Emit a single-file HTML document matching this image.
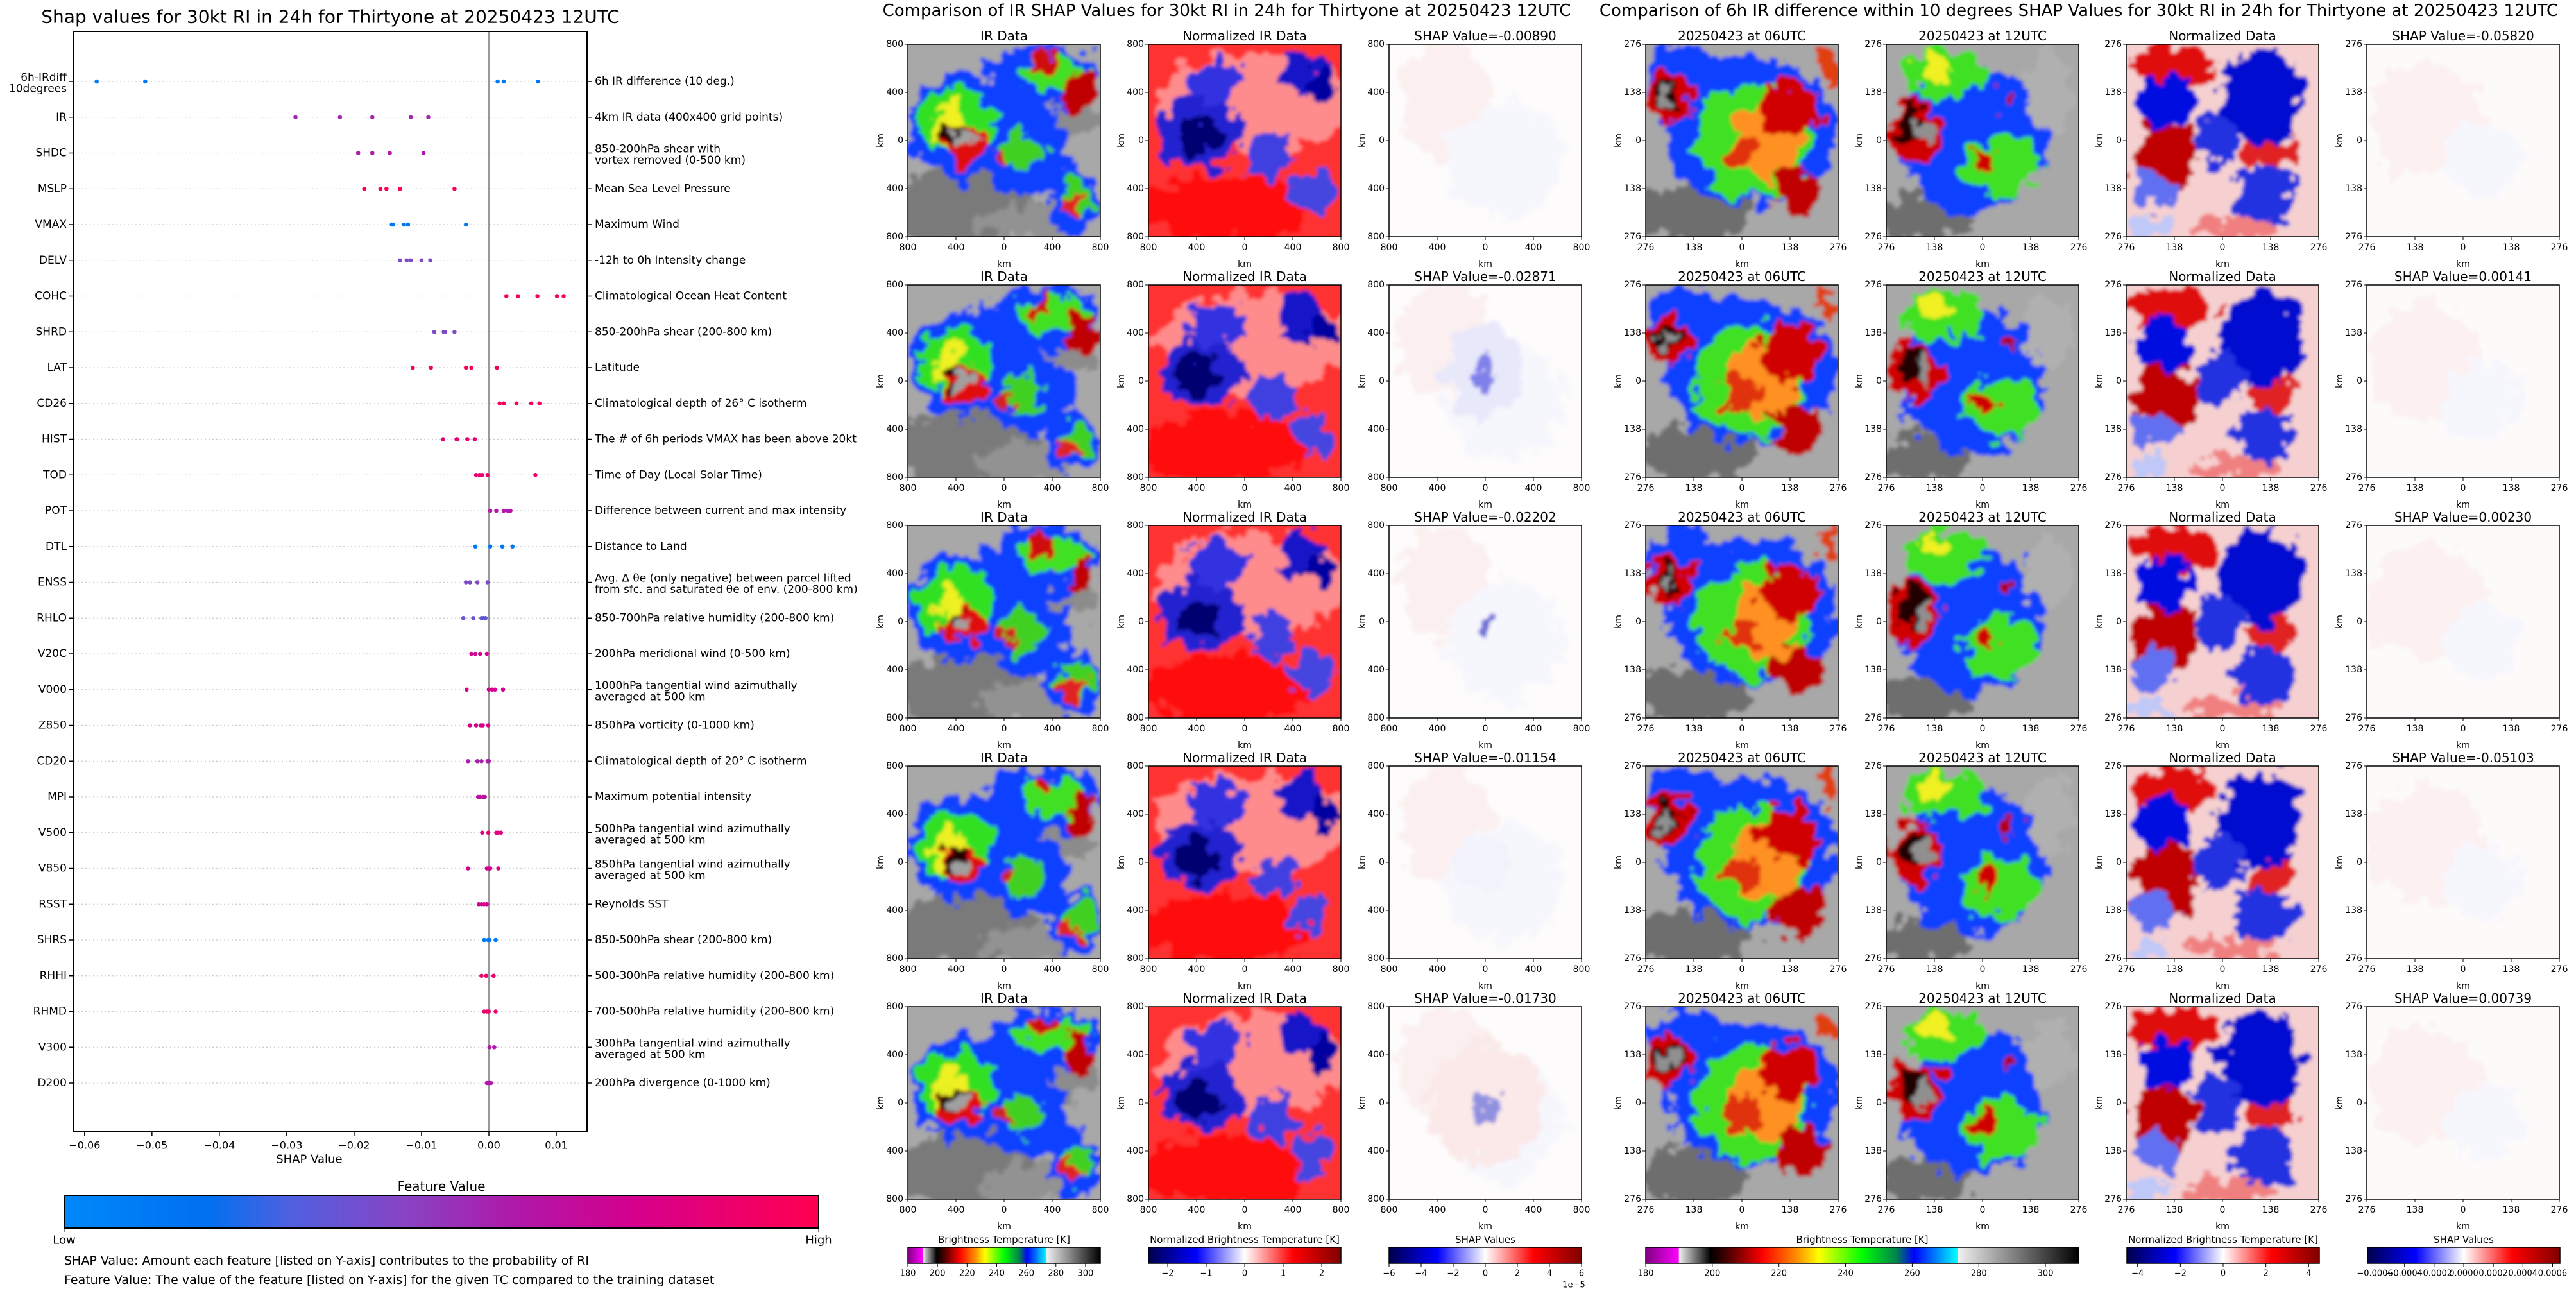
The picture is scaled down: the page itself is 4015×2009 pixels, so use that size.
<!DOCTYPE html>
<html><head><meta charset="utf-8">
<style>
html,body{margin:0;padding:0;background:#fff;}
svg{display:block;font-family:"DejaVu Sans","Liberation Sans",sans-serif;}
</style></head>
<body>
<svg id="page" width="4015" height="2009" viewBox="0 0 4015 2009" xmlns="http://www.w3.org/2000/svg">
<defs>
<filter id="blur1" x="-20%" y="-20%" width="140%" height="140%">
<feTurbulence type="fractalNoise" baseFrequency="0.035" numOctaves="3" seed="4" result="n"/>
<feDisplacementMap in="SourceGraphic" in2="n" scale="60" xChannelSelector="R" yChannelSelector="G" result="d"/>
<feGaussianBlur in="d" stdDeviation="3"/>
</filter>
<linearGradient id="fvgrad" x1="0" x2="1" y1="0" y2="0">
<stop offset="0" stop-color="#0088fa"/><stop offset="0.19" stop-color="#0070f0"/><stop offset="0.3" stop-color="#5060e0"/><stop offset="0.45" stop-color="#8844c4"/><stop offset="0.6" stop-color="#b018a8"/><stop offset="0.75" stop-color="#d4008e"/><stop offset="1" stop-color="#ff0050"/>
</linearGradient>
<linearGradient id="irgrad" x1="0" x2="1" y1="0" y2="0">
<stop offset="0" stop-color="#800080"/><stop offset="0.076" stop-color="#ff00ff"/><stop offset="0.077" stop-color="#f0f0f0"/><stop offset="0.15" stop-color="#000000"/><stop offset="0.2" stop-color="#600000"/><stop offset="0.27" stop-color="#ff0000"/><stop offset="0.35" stop-color="#ff9000"/><stop offset="0.4" stop-color="#ffff00"/><stop offset="0.5" stop-color="#00ff00"/><stop offset="0.58" stop-color="#008050"/><stop offset="0.62" stop-color="#0000ff"/><stop offset="0.72" stop-color="#00ffff"/><stop offset="0.721" stop-color="#f0f0f0"/><stop offset="1" stop-color="#000000"/>
</linearGradient>
<linearGradient id="seismic" x1="0" x2="1" y1="0" y2="0">
<stop offset="0" stop-color="#00004c"/><stop offset="0.25" stop-color="#0000ff"/><stop offset="0.5" stop-color="#ffffff"/><stop offset="0.75" stop-color="#ff0000"/><stop offset="1" stop-color="#800000"/>
</linearGradient>
</defs>
<g id="root"></g>
</svg>
<script>
// ---------- SHAP summary data ----------
const features = ["6h-IRdiff\n10degrees","IR","SHDC","MSLP","VMAX","DELV","COHC","SHRD","LAT","CD26","HIST","TOD","POT","DTL","ENSS","RHLO","V20C","V000","Z850","CD20","MPI","V500","V850","RSST","SHRS","RHHI","RHMD","V300","D200"];
const descriptions = ["6h IR difference (10 deg.)","4km IR data (400x400 grid points)","850-200hPa shear with\nvortex removed (0-500 km)","Mean Sea Level Pressure","Maximum Wind","-12h to 0h Intensity change","Climatological Ocean Heat Content","850-200hPa shear (200-800 km)","Latitude","Climatological depth of 26° C isotherm","The # of 6h periods VMAX has been above 20kt","Time of Day (Local Solar Time)","Difference between current and max intensity","Distance to Land","Avg. Δ θe (only negative) between parcel lifted\nfrom sfc. and saturated θe of env. (200-800 km)","850-700hPa relative humidity (200-800 km)","200hPa meridional wind (0-500 km)","1000hPa tangential wind azimuthally\naveraged at 500 km","850hPa vorticity (0-1000 km)","Climatological depth of 20° C isotherm","Maximum potential intensity","500hPa tangential wind azimuthally\naveraged at 500 km","850hPa tangential wind azimuthally\naveraged at 500 km","Reynolds SST","850-500hPa shear (200-800 km)","500-300hPa relative humidity (200-800 km)","700-500hPa relative humidity (200-800 km)","300hPa tangential wind azimuthally\naveraged at 500 km","200hPa divergence (0-1000 km)"];
const shapValues = [
[-0.0582,-0.0510,0.0013,0.0022,0.0073],
[-0.0287,-0.0221,-0.0173,-0.0116,-0.0090],
[-0.0194,-0.0173,-0.0147,-0.0097],
[-0.0185,-0.0161,-0.0152,-0.0132,-0.0051],
[-0.0144,-0.0142,-0.0126,-0.0120,-0.0034],
[-0.0132,-0.0122,-0.0116,-0.0100,-0.0087],
[0.0026,0.0043,0.0072,0.0101,0.0111],
[-0.0081,-0.0067,-0.0065,-0.0051],
[-0.0113,-0.0086,-0.0034,-0.0026,0.0012],
[0.0016,0.0022,0.0041,0.0063,0.0075],
[-0.0068,-0.0048,-0.0047,-0.0032,-0.0021],
[-0.0019,-0.0014,-0.0010,-0.0002,0.0069],
[0.0002,0.0011,0.0022,0.0028,0.0032],
[-0.0020,0.0002,0.0020,0.0035],
[-0.0034,-0.0028,-0.0017,-0.0002],
[-0.0038,-0.0023,-0.0011,-0.0008,-0.0005],
[-0.0026,-0.0020,-0.0013,-0.0003],
[-0.0033,0.0000,0.0005,0.0009,0.0021],
[-0.0028,-0.0019,-0.0012,-0.0009,-0.0001],
[-0.0031,-0.0017,-0.0011,-0.0002,0.0000],
[-0.0016,-0.0013,-0.0009,-0.0006],
[-0.0010,-0.0001,0.0011,0.0014,0.0018],
[-0.0031,-0.0003,0.0000,0.0002,0.0014],
[-0.0015,-0.0011,-0.0007,-0.0003],
[-0.0007,-0.0001,0.0001,0.0010],
[-0.0011,-0.0004,0.0007],
[-0.0007,-0.0003,0.0000,0.0010],
[0.0001,0.0008],
[-0.0003,0.0000,0.0003]];
const featureValues = [0.1,0.55,0.6,0.98,0.12,0.42,0.97,0.42,0.95,0.95,0.85,0.88,0.6,0.12,0.42,0.35,0.75,0.75,0.78,0.58,0.65,0.82,0.75,0.75,0.12,0.88,0.9,0.6,0.6];
const xTicks = [-0.06,-0.05,-0.04,-0.03,-0.02,-0.01,0.00,0.01];
const xTickLabels = ["\u22120.06","\u22120.05","\u22120.04","\u22120.03","\u22120.02","\u22120.01","0.00","0.01"];
const shapIR = ["-0.00890","-0.02871","-0.02202","-0.01154","-0.01730"];
const shapDiff = ["-0.05820","0.00141","0.00230","-0.05103","0.00739"];

const NS="http://www.w3.org/2000/svg";
const root=document.getElementById('root');
function mk(tag,attrs,parent){const e=document.createElementNS(NS,tag);for(const k in attrs)e.setAttribute(k,attrs[k]);(parent||root).appendChild(e);return e;}
function txt(s,x,y,size,anchor,parent,extra){const t=mk('text',Object.assign({x:x,y:y,'font-size':size,'text-anchor':anchor||'middle','dominant-baseline':'central',fill:'#000'},extra||{}),parent);t.textContent=s;return t;}

// ---------- left chart ----------
const AX={l:115,r:915,t:49,b:1764};
const X0=-0.0616,X1=0.01457;
function xs(v){return AX.l+(v-X0)/(X1-X0)*(AX.r-AX.l);}
const ROW0=127,ROWSTEP=55.75;
function ys(i){return ROW0+i*ROWSTEP;}
const stops=[[0,[0,136,250]],[0.19,[0,112,240]],[0.3,[80,96,224]],[0.45,[136,68,196]],[0.6,[176,24,168]],[0.75,[212,0,142]],[1,[255,0,80]]];
function fvColor(f){for(let i=1;i<stops.length;i++){if(f<=stops[i][0]){const a=stops[i-1],b=stops[i];const t=(f-a[0])/(b[0]-a[0]);const c=a[1].map((v,j)=>Math.round(v+(b[1][j]-v)*t));return 'rgb('+c.join(',')+')';}}return 'rgb(255,0,80)';}

const chart=mk('g',{});


const t0=txt("Shap values for 30kt RI in 24h for Thirtyone at 20250423 12UTC",515,26,28,'middle',chart);

const plotArea=mk('g',{},chart);

features.forEach((f,i)=>{
  const y=ys(i);
  const g=mk('line',{x1:AX.l,x2:AX.r,y1:y,y2:y,stroke:'#cccccc','stroke-width':1.2,'stroke-dasharray':'2,4'},plotArea);
  
});
const zl=mk('line',{x1:xs(0),x2:xs(0),y1:AX.t,y2:AX.b,stroke:'#999','stroke-width':3},plotArea);

shapValues.forEach((row,i)=>{
  const col=fvColor(featureValues[i]);
  row.forEach(v=>{
    const c=mk('circle',{cx:xs(v),cy:ys(i),r:3.3,fill:col},plotArea);
    
    
  });
});
const box=mk('rect',{x:AX.l,y:AX.t,width:AX.r-AX.l,height:AX.b-AX.t,fill:'none',stroke:'#000','stroke-width':2},chart);

const yl=mk('g',{},chart);
const yr=mk('g',{},chart);
features.forEach((f,i)=>{
  const y=ys(i);
  mk('line',{x1:AX.l-7,x2:AX.l,y1:y,y2:y,stroke:'#000','stroke-width':1.5},yl);
  mk('line',{x1:AX.r,x2:AX.r+7,y1:y,y2:y,stroke:'#000','stroke-width':1.5},yr);
  const lines=f.split('\n');
  lines.forEach((s,k)=>{const t=txt(s,AX.l-11,lines.length>1?y-6+k*17.5:y,17,'end',yl);});
  const d=descriptions[i].split('\n');
  d.forEach((s,k)=>{const t=txt(s,AX.r+12,d.length>1?y-6+k*17.5:y,17,'start',yr);});
});
const xa=mk('g',{},chart);
xTicks.forEach((v,i)=>{
  const x=xs(v);
  mk('line',{x1:x,x2:x,y1:AX.b,y2:AX.b+7,stroke:'#000','stroke-width':1.5},xa);
  const t=txt(xTickLabels[i],x,AX.b+21,16,'middle',xa);
});
const xt=txt("SHAP Value",xs(-0.03)+35,1807,18,'middle',chart);
const ft=txt("Feature Value",688,1849,20,'middle',chart);
const fcb=mk('rect',{x:100,y:1863,width:1176,height:51,fill:'url(#fvgrad)',stroke:'#000','stroke-width':2},chart);

mk('line',{x1:100,x2:100,y1:1914,y2:1920,stroke:'#000'},chart);mk('line',{x1:1276,x2:1276,y1:1914,y2:1920,stroke:'#000'},chart);
let t=txt("Low",100,1933,18,'middle',chart);
t=txt("High",1276,1933,18,'middle',chart);
t=txt("SHAP Value: Amount each feature [listed on Y-axis] contributes to the probability of RI",100,1965,19,'start',chart);
t=txt("Feature Value: The value of the feature [listed on Y-axis] for the given TC compared to the training dataset",100,1995,19,'start',chart);

// ---------- image panels ----------
const IRB=[['rect','#a8a8a8'],[0.3,0.86,0.4,0.2,'#7a7a7a'],[0.65,0.92,0.3,0.1,'#929292'],[0.85,0.4,0.14,0.07,'#8c8c8c'],
[0.3,0.42,0.3,0.28,'#1040ff'],[0.62,0.56,0.22,0.22,'#1040ff'],[0.7,0.18,0.3,0.18,'#1040ff'],[0.86,0.82,0.14,0.17,'#1040ff'],
[0.25,0.4,0.2,0.18,'#30e020'],[0.6,0.56,0.11,0.11,'#40d020'],[0.75,0.15,0.18,0.1,'#40e020'],[0.88,0.8,0.08,0.1,'#40d020'],
[0.22,0.38,0.07,0.07,'#f0f020'],[0.18,0.46,0.05,0.06,'#e8f020'],
[0.28,0.52,0.12,0.1,'#e01010'],[0.9,0.25,0.08,0.1,'#c00000'],[0.7,0.1,0.06,0.06,'#d01010'],[0.85,0.85,0.05,0.06,'#e02020'],[0.5,0.58,0.04,0.04,'#d02020'],
[0.24,0.48,0.06,0.05,'#200000'],[0.28,0.5,0.035,0.045,'#a0a0a0']];
const NIR=[['rect','#ff3030'],[0.55,0.3,0.5,0.26,'#ff8c8c'],[0.4,0.85,0.45,0.18,'#ff0808'],
[0.28,0.46,0.22,0.18,'#2020d0'],[0.25,0.48,0.1,0.1,'#000070'],[0.35,0.2,0.15,0.12,'#3030e0'],[0.8,0.15,0.12,0.12,'#1515c8'],[0.9,0.24,0.08,0.08,'#0000a0'],[0.65,0.58,0.12,0.12,'#4040e0'],[0.85,0.77,0.1,0.12,'#4545e0']];
const SHL=[['rect','#fdfbfb'],[0.3,0.3,0.25,0.3,'#fcefef'],[0.6,0.6,0.3,0.3,'#f6f6fd']];
const T06=[['rect','#a8a8a8'],[0.25,0.88,0.3,0.15,'#6e6e6e'],[0.55,0.45,0.45,0.38,'#1040ff'],[0.2,0.2,0.2,0.2,'#1040ff'],[0.55,0.5,0.3,0.3,'#40e020'],[0.62,0.5,0.18,0.2,'#ff9020'],
[0.12,0.28,0.12,0.13,'#d00000'],[0.75,0.35,0.15,0.15,'#d00000'],[0.8,0.75,0.13,0.12,'#c00000'],[0.5,0.56,0.1,0.08,'#e03010'],[0.95,0.1,0.05,0.1,'#e04010'],
[0.12,0.27,0.07,0.07,'#200000'],[0.12,0.28,0.04,0.04,'#909090']];
const T12=[['rect','#a8a8a8'],[0.2,0.9,0.25,0.12,'#6e6e6e'],[0.45,0.5,0.38,0.38,'#1040ff'],[0.3,0.15,0.22,0.13,'#40e020'],[0.6,0.64,0.2,0.16,'#40e020'],[0.85,0.25,0.12,0.2,'#b0b0b0'],
[0.25,0.12,0.08,0.06,'#f0f020'],[0.15,0.45,0.14,0.16,'#d00000'],[0.52,0.6,0.05,0.05,'#d00000'],[0.63,0.3,0.03,0.05,'#b00000'],
[0.15,0.42,0.08,0.1,'#200000'],[0.2,0.45,0.04,0.07,'#909090']];
const NDT=[['rect','#f6d0d0'],[0.25,0.12,0.22,0.12,'#e01010'],[0.2,0.58,0.17,0.2,'#c00000'],[0.75,0.55,0.12,0.12,'#e02020'],[0.55,0.95,0.25,0.06,'#f08080'],
[0.2,0.3,0.14,0.14,'#0010e0'],[0.7,0.28,0.22,0.25,'#0010d0'],[0.48,0.5,0.12,0.14,'#2030e0'],[0.72,0.78,0.16,0.15,'#2030e0'],[0.15,0.75,0.12,0.1,'#6070f0'],[0.12,0.95,0.1,0.06,'#c0c8f8']];
const SHR=[['rect','#fdfafa'],[0.3,0.4,0.3,0.3,'#fcf0f0'],[0.6,0.6,0.2,0.2,'#f6f6fd']];
const SHLrow=[[],[[0.5,0.45,0.2,0.25,'#e8e8fb'],[0.5,0.46,0.04,0.1,'#8080ea']],[[0.52,0.5,0.05,0.05,'#7070d8']],[[0.5,0.5,0.15,0.15,'#f2f2fc']],[[0.5,0.5,0.3,0.3,'#fbe8e8'],[0.52,0.52,0.06,0.1,'#9090e0']]];

let pid=0;
function panel(x,y,title,blobs,ticks,name){
  const g=mk('g',{});
  
  
  const id='clip'+(pid++);
  const cp=mk('clipPath',{id:id},g);mk('rect',{x:x,y:y,width:300,height:300},cp);
  const ig=mk('g',{'clip-path':'url(#'+id+')'},g);
  const bl=mk('g',{filter:'url(#blur1)'},ig);
  blobs.forEach(b=>{
    if(b[0]==='rect'){mk('rect',{x:x-40,y:y-40,width:380,height:380,fill:b[1]},bl);}
    else mk('ellipse',{cx:x+b[0]*300,cy:y+b[1]*300,rx:b[2]*300,ry:b[3]*300,fill:b[4]},bl);
  });
  mk('rect',{x:x,y:y,width:300,height:300,fill:'none',stroke:'#000','stroke-width':1.5},g);
  const tt=txt(title,x+150,y-13,20,'middle',g);
  ticks.forEach((s,k)=>{
    const p=k*75;
    mk('line',{x1:x-5,x2:x,y1:y+p,y2:y+p,stroke:'#000'},g);
    txt(s,x-7,y+p,14,'end',g);
    mk('line',{x1:x+p,x2:x+p,y1:y+300,y2:y+305,stroke:'#000'},g);
    txt(s,x+p,y+317,14,'middle',g);
  });
  txt('km',x+150,y+343,14,'middle',g);
  txt('km',0,0,14,'middle',g,{transform:'translate('+(x-42)+','+(y+150)+') rotate(-90)'});
}
const T8=['800','400','0','400','800'],T2=['276','138','0','138','276'];
const tA=txt("Comparison of IR SHAP Values for 30kt RI in 24h for Thirtyone at 20250423 12UTC",1912,17,26,'middle');

const tB=txt("Comparison of 6h IR difference within 10 degrees SHAP Values for 30kt RI in 24h for Thirtyone at 20250423 12UTC",3240,17,26,'middle');

for(let r=0;r<5;r++){
  const y=69+r*375;
  panel(1415,y,'IR Data',IRB,T8,'ir-data-panel');
  panel(1790,y,'Normalized IR Data',NIR,T8,'normalized-ir-panel');
  panel(2165,y,'SHAP Value='+shapIR[r],SHL.concat(SHLrow[r]),T8,'ir-shap-panel');
  panel(2565,y,'20250423 at 06UTC',T06,T2,'ir-06utc-panel');
  panel(2940,y,'20250423 at 12UTC',T12,T2,'ir-12utc-panel');
  panel(3314,y,'Normalized Data',NDT,T2,'normalized-diff-panel');
  panel(3689,y,'SHAP Value='+shapDiff[r],SHR,T2,'diff-shap-panel');
}
function cbar(x,w,grad,label,vmin,vmax,ticks,labels,name){
  const g=mk('g',{});
  
  
  txt(label,x+w/2,1932,15,'middle',g);
  mk('rect',{x:x,y:1944,width:w,height:25,fill:'url(#'+grad+')',stroke:'#000','stroke-width':1.5},g);
  ticks.forEach((v,i)=>{const px=x+(v-vmin)/(vmax-vmin)*w;mk('line',{x1:px,x2:px,y1:1969,y2:1974,stroke:'#000'},g);txt(labels[i],px,1985,13,'middle',g);});
}
const irT=[180,200,220,240,260,280,300],irL=irT.map(String);
cbar(1415,300,'irgrad','Brightness Temperature [K]',180,310,irT,irL,'ir-colorbar-left');
cbar(1790,300,'seismic','Normalized Brightness Temperature [K]',-2.5,2.5,[-2,-1,0,1,2],['\u22122','\u22121','0','1','2'],'norm-colorbar-left');
cbar(2165,300,'seismic','SHAP Values',-6,6,[-6,-4,-2,0,2,4,6],['\u22126','\u22124','\u22122','0','2','4','6'],'shap-colorbar-left');
txt('1e\u22125',2453,2003,13,'middle');
cbar(2565,675,'irgrad','Brightness Temperature [K]',180,310,irT,irL,'ir-colorbar-right');
cbar(3315,300,'seismic','Normalized Brightness Temperature [K]',-4.5,4.5,[-4,-2,0,2,4],['\u22124','\u22122','0','2','4'],'norm-colorbar-right');
cbar(3690,300,'seismic','SHAP Values',-0.00065,0.00065,[-0.0006,-0.0004,-0.0002,0,0.0002,0.0004,0.0006],['\u22120.0006','\u22120.0004','\u22120.0002','0.0000','0.0002','0.0004','0.0006'],'shap-colorbar-right');
</script>
</body></html>
